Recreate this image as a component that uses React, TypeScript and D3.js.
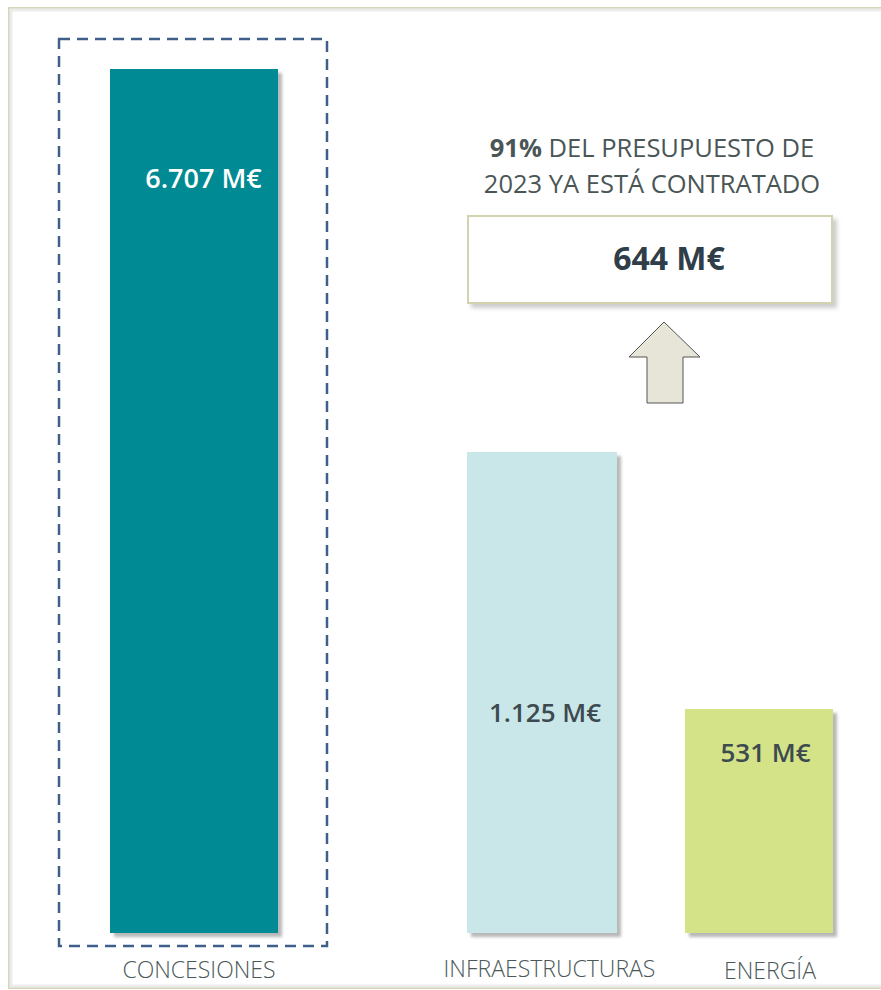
import React from "react";
import * as d3 from "d3";

const categories = ["CONCESIONES", "INFRAESTRUCTURAS", "ENERGÍA"];
const values = [6707, 1125, 531];
const valueLabels = ["6.707 M€", "1.125 M€", "531 M€"];
const barColors = ["#028a93", "#c9e6e8", "#d4e387"];
const labelColors = ["#ffffff", "#3d4a4f", "#3d4a4f"];
// broken (piecewise) scale: value breakpoints
const scaleBreaks = [0, 531, 1125, 6707];
const annotationLines = [
  { bold: "91%", rest: " DEL PRESUPUESTO DE" },
  { bold: "", rest: "2023 YA ESTÁ CONTRATADO" },
];
const annotationValue = "644 M€";

const W = 881;
const H = 990;
const FONT = "'Open Sans', 'Segoe UI', sans-serif";

export default function App() {
  const baseline = 933;
  const y = d3
    .scaleLinear()
    .domain(scaleBreaks)
    .range([baseline, 709, 452, 69]);

  const barX = [110, 467, 685];
  const barW = [168, 150, 148];
  const labelCx = [203.5, 545, 765.5];
  const labelDy = [119, 270, 53];
  const labelSize = [27, 26, 26];
  const catX = [199, 549.5, 770];
  const catY = [977.5, 976.5, 979];

  const arrowPts: [number, number][] = [
    [664, 322],
    [700, 357],
    [683, 357],
    [683, 403],
    [647, 403],
    [647, 357],
    [629, 357],
  ];
  const line = d3.line();

  return (
    <svg
      width={W}
      height={H}
      style={{ position: "absolute", left: 0, top: 0, background: "#fff" }}
    >
      <defs>
        <filter id="sh" x="-10%" y="-10%" width="130%" height="130%">
          <feDropShadow dx="4" dy="4" stdDeviation="1.5" floodColor="#000" floodOpacity="0.28" />
        </filter>
        <filter id="sh2" x="-10%" y="-10%" width="130%" height="140%">
          <feDropShadow dx="4" dy="4" stdDeviation="2" floodColor="#000" floodOpacity="0.2" />
        </filter>
      </defs>
      {/* outer frame */}
      <rect x={9} y={8} width={900} height={980} fill="none" stroke="#d6d6bd" strokeWidth={2} />
      <rect x={11} y={10} width={896} height={976} fill="none" stroke="#ececec" strokeWidth={3} />

      {/* dashed highlight around first bar */}
      <rect
        x={59}
        y={39}
        width={268}
        height={907}
        fill="none"
        stroke="#3e5f8a"
        strokeWidth={2.5}
        strokeDasharray="11 7"
      />

      {values.map((v, i) => (
        <g key={categories[i]}>
          <rect
            x={barX[i]}
            y={y(v)}
            width={barW[i]}
            height={baseline - y(v)}
            fill={barColors[i]}
            filter="url(#sh)"
          />
          <text
            x={labelCx[i]}
            y={y(v) + labelDy[i]}
            textAnchor="middle"
            fontFamily={FONT}
            fontWeight={600}
            fontSize={labelSize[i]}
            fill={labelColors[i]}
          >
            {valueLabels[i]}
          </text>
          <text
            x={catX[i]}
            y={catY[i]}
            textAnchor="middle"
            fontFamily={FONT}
            fontWeight={300}
            fontSize={23}
            fill="#4a5858"
          >
            {categories[i]}
          </text>
        </g>
      ))}

      {/* annotation */}
      {annotationLines.map((l, i) => (
        <text
          key={i}
          x={652}
          y={157 + i * 36}
          textAnchor="middle"
          fontFamily={FONT}
          fontSize={25.5}
          fontWeight={400}
          fill="#4a5656"
        >
          {l.bold ? <tspan fontWeight={700}>{l.bold}</tspan> : null}
          <tspan>{l.rest}</tspan>
        </text>
      ))}
      <rect
        x={468}
        y={216}
        width={364}
        height={87}
        fill="#fff"
        stroke="#d3d3b0"
        strokeWidth={2}
        filter="url(#sh2)"
      />
      <text
        x={669}
        y={270}
        textAnchor="middle"
        fontFamily={FONT}
        fontWeight={700}
        fontSize={32}
        fill="#2f3e48"
      >
        {annotationValue}
      </text>
      <path
        d={line(arrowPts) + "Z"}
        fill="#e6e5d8"
        stroke="#555"
        strokeWidth={1}
      />
    </svg>
  );
}
